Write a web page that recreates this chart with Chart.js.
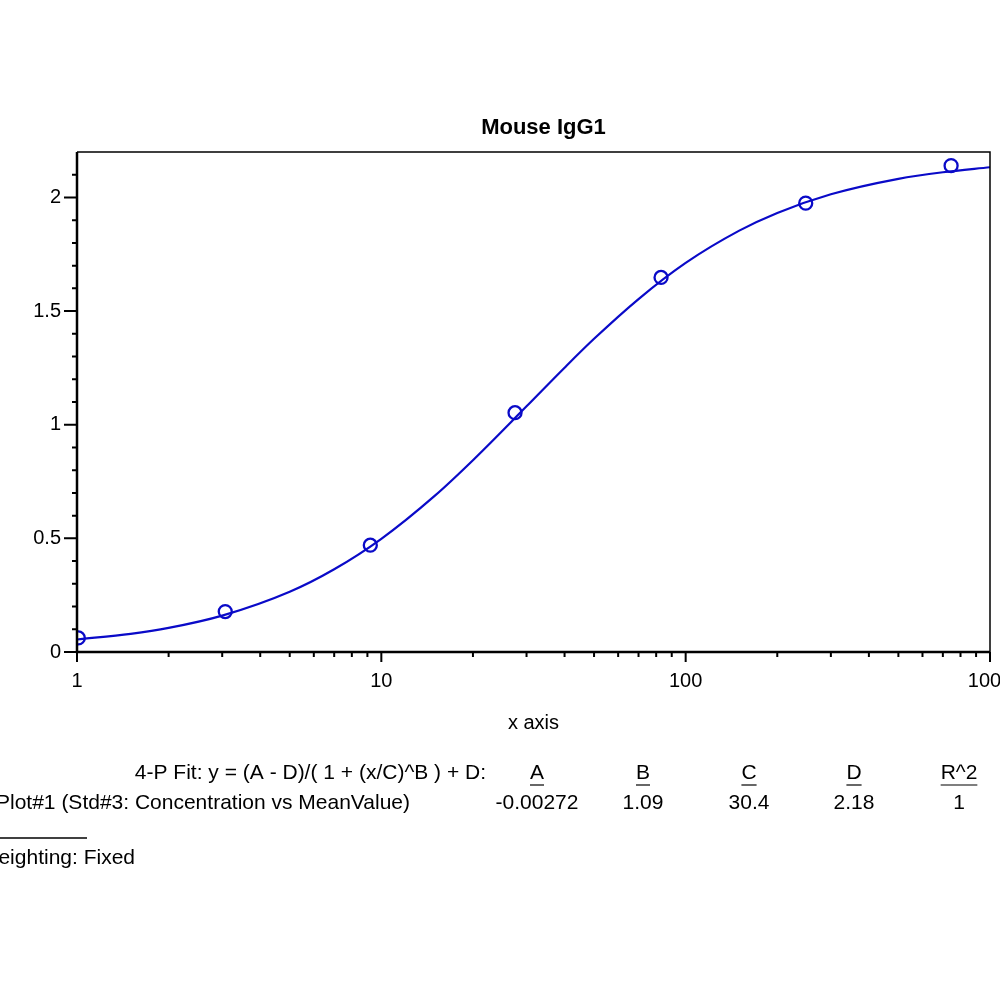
<!DOCTYPE html>
<html lang="en">
<head>
  <meta charset="UTF-8" />
  <title>Mouse IgG1</title>
  <script src="https://cdn.jsdelivr.net/npm/chart.js"></script>
  <style>
    body { margin: 0; padding: 0; background: #fff; }
    canvas { display: block; }
  </style>
</head>
<body>
  <canvas id="fitChart" width="1000" height="1000"></canvas>
  <script>
    // measured standards (concentration vs mean value)
    const stdConc = [1.01, 3.07, 9.2, 27.5, 83, 248, 745];
    const stdMean = [0.062, 0.178, 0.470, 1.053, 1.648, 1.975, 2.140];

    // fitted curve
    const curveX = [1, 1.5, 2, 3, 5, 7, 10, 15, 20, 30, 40, 50, 70, 100, 150, 200, 300, 500, 700, 1000];
    const curveY = [0.055, 0.080, 0.106, 0.160, 0.265, 0.364, 0.498, 0.688, 0.844, 1.081, 1.251, 1.378, 1.553, 1.712, 1.854, 1.932, 2.014, 2.082, 2.111, 2.133];

    // axis ticks
    const xMajor = [1, 10, 100, 1000];
    const xMinor = [2, 3, 4, 5, 6, 7, 8, 9, 20, 30, 40, 50, 60, 70, 80, 90, 200, 300, 400, 500, 600, 700, 800, 900];
    const yMajor = [0, 0.5, 1, 1.5, 2];
    const yMinor = [0.1, 0.2, 0.3, 0.4, 0.6, 0.7, 0.8, 0.9, 1.1, 1.2, 1.3, 1.4, 1.6, 1.7, 1.8, 1.9, 2.1];

    // fit summary table
    const fitHeads = ['A', 'B', 'C', 'D', 'R^2'];
    const fitVals = ['-0.00272', '1.09', '30.4', '2.18', '1'];

    const FONT = '"Liberation Sans", Arial, sans-serif';
    const BLUE = '#0a0ac8';

    const axesPlugin = {
      id: 'axesPlugin',
      afterDraw(chart) {
        const c = chart.ctx;
        const a = chart.chartArea;
        const xs = chart.scales.x;
        const ys = chart.scales.y;
        c.save();
        c.strokeStyle = '#000';
        c.fillStyle = '#000';

        // frame
        c.lineWidth = 1.5;
        c.beginPath();
        c.moveTo(a.left, a.top); c.lineTo(a.right, a.top); c.lineTo(a.right, a.bottom);
        c.stroke();
        c.lineWidth = 2.5;
        c.beginPath();
        c.moveTo(a.left, a.top); c.lineTo(a.left, a.bottom); c.lineTo(a.right, a.bottom);
        c.stroke();

        // ticks
        c.lineWidth = 2;
        c.beginPath();
        xMajor.forEach(v => { const p = xs.getPixelForValue(v); c.moveTo(p, a.bottom); c.lineTo(p, a.bottom + 10); });
        xMinor.forEach(v => { const p = xs.getPixelForValue(v); c.moveTo(p, a.bottom); c.lineTo(p, a.bottom + 5); });
        yMajor.forEach(v => { const p = ys.getPixelForValue(v); c.moveTo(a.left, p); c.lineTo(a.left - 13, p); });
        yMinor.forEach(v => { const p = ys.getPixelForValue(v); c.moveTo(a.left, p); c.lineTo(a.left - 5, p); });
        c.stroke();

        // tick labels
        c.font = '20px ' + FONT;
        c.textAlign = 'center';
        c.textBaseline = 'middle';
        xMajor.forEach(v => c.fillText(String(v), xs.getPixelForValue(v), a.bottom + 29));
        c.textAlign = 'right';
        yMajor.forEach(v => c.fillText(String(v), a.left - 16, ys.getPixelForValue(v)));

        // titles
        const mid = (a.left + a.right) / 2;
        c.textAlign = 'center';
        c.font = 'bold 22px ' + FONT;
        c.fillText('Mouse IgG1', mid + 10, a.top - 24);
        c.font = '20px ' + FONT;
        c.fillText('x axis', mid, a.bottom + 71);

        // fit table
        c.font = '21px ' + FONT;
        c.textAlign = 'right';
        c.fillText('4-P Fit: y = (A - D)/( 1 + (x/C)^B ) + D:', 486, 773);
        c.textAlign = 'left';
        c.fillText('Plot#1 (Std#3: Concentration vs MeanValue)', -4, 803);
        c.fillText('Weighting: Fixed', -21, 858);
        const colX = [537, 643, 749, 854, 959];
        c.textAlign = 'center';
        c.lineWidth = 1.2;
        fitHeads.forEach((h, i) => {
          c.fillText(h, colX[i], 773);
          const w = c.measureText(h).width;
          c.beginPath();
          c.moveTo(colX[i] - w / 2, 785); c.lineTo(colX[i] + w / 2, 785);
          c.stroke();
          c.fillText(fitVals[i], colX[i], 803);
        });
        c.lineWidth = 1.5;
        c.beginPath();
        c.moveTo(0, 838); c.lineTo(87, 838);
        c.stroke();
        c.restore();
      }
    };

    new Chart(document.getElementById('fitChart'), {
      type: 'scatter',
      data: {
        datasets: [
          {
            label: 'Fit',
            data: curveX.map((x, i) => ({ x: x, y: curveY[i] })),
            showLine: true,
            borderColor: BLUE,
            borderWidth: 2.2,
            pointRadius: 0,
            tension: 0.4,
            cubicInterpolationMode: 'monotone',
            fill: false
          },
          {
            label: 'Std#3',
            data: stdConc.map((x, i) => ({ x: x, y: stdMean[i] })),
            showLine: false,
            pointStyle: 'circle',
            pointRadius: 6.5,
            pointBorderWidth: 2.3,
            pointBorderColor: BLUE,
            pointBackgroundColor: 'rgba(0,0,0,0)'
          }
        ]
      },
      options: {
        responsive: false,
        animation: false,
        devicePixelRatio: 1,
        layout: { padding: { left: 77, right: 10, top: 152, bottom: 348 } },
        plugins: { legend: { display: false }, tooltip: { enabled: false } },
        scales: {
          x: { type: 'logarithmic', min: 1, max: 1000, display: false },
          y: { type: 'linear', min: 0, max: 2.2, display: false }
        }
      },
      plugins: [axesPlugin]
    });
  </script>
</body>
</html>
